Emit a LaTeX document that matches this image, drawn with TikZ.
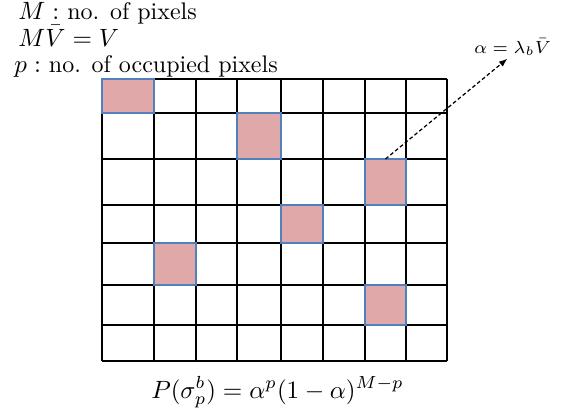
\documentclass[tikz,border=0pt]{standalone}
\usepackage{amsmath,amssymb}
\usepackage{xcolor}
\usetikzlibrary{arrows.meta,positioning}
\definecolor{occfill}{RGB}{224,168,168}
\definecolor{occedge}{RGB}{79,129,189}

\begin{document}
\begin{tikzpicture}[
    x=0.4pt, y=-0.4pt,
    gridline/.style={line width=0.6pt, black},
    occ/.style={fill=occfill, draw=occedge, line width=0.5pt},
    txt/.style={anchor=base west, inner sep=0pt, font=\fontsize{9.6}{11}\selectfont},
    arrow/.style={-{Latex[length=1.2mm]}, line width=0.5pt, dash pattern=on 1.5pt off 1pt}
]
\useasboundingbox (0,0) rectangle (567,416);
% grid of pixels
\foreach \x in {102,154,196,237,281,323,365,406,447}
  \draw[gridline] (\x,79) -- (\x,361);
\foreach \y in {79,113,159,205,243,285,325,361}
  \draw[gridline] (102,\y) -- (447,\y);
% occupied pixels
\foreach \xa/\xb/\ya/\yb [count=\i] in {102/154/79/113, 237/281/113/159, 365/406/159/205,
    281/323/205/243, 154/196/243/285, 365/406/285/325}
  \draw[occ] (\xa,\ya) rectangle (\xb,\yb) coordinate[midway] (occ\i);
\coordinate (hit) at (385.5,159);
% labels
\node[txt] (npix) at (18,19) {$M:$ no. of pixels};
\node[txt] (vol) at (18,46) {$M\bar{V}=V$};
\node[txt] (nocc) at (14,72) {$p:$ no. of occupied pixels};
\node[txt, font=\fontsize{7.4}{9}\selectfont, inner sep=1pt] (alpha) at (471,53) {$\alpha=\lambda_b\bar{V}$};
\node[anchor=base, inner sep=0pt] (prob) at (277.5,398) {$P(\sigma_p^b)=\alpha^p(1-\alpha)^{M-p}$};
\draw[arrow] (hit) -- ([xshift=-2pt]alpha.south);
\end{tikzpicture}
\end{document}
